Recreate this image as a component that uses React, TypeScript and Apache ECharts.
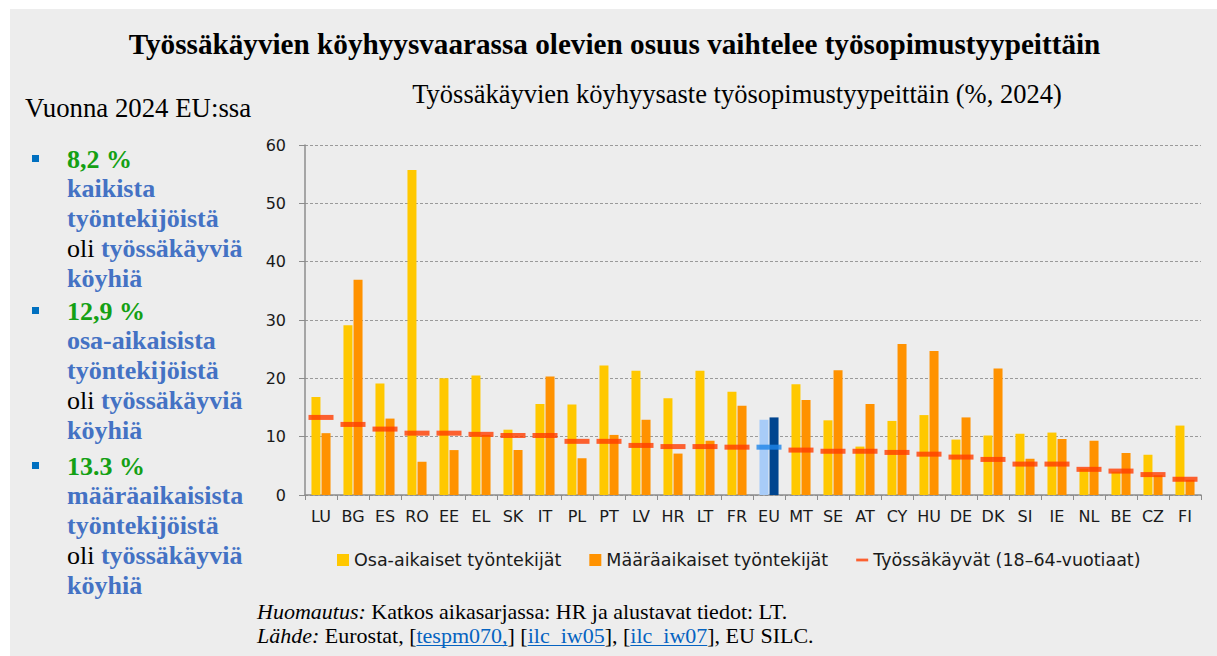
import React, { useEffect, useRef } from "react";
import * as echarts from "echarts";

// ---- Data ----
const categories = ["LU", "BG", "ES", "RO", "EE", "EL", "SK", "IT", "PL", "PT", "LV", "HR", "LT", "FR", "EU", "MT", "SE", "AT", "CY", "HU", "DE", "DK", "SI", "IE", "NL", "BE", "CZ", "FI"];
const partTime = [16.8, 29.1, 19.1, 55.7, 20.0, 20.5, 11.2, 15.6, 15.5, 22.2, 21.3, 16.6, 21.3, 17.7, 12.9, 19.0, 12.8, 8.3, 12.7, 13.7, 9.5, 10.2, 10.5, 10.7, 4.5, 4.0, 6.9, 11.9];
const temporary = [10.6, 36.9, 13.1, 5.7, 7.7, 10.3, 7.7, 20.3, 6.3, 10.3, 12.9, 7.1, 9.3, 15.3, 13.3, 16.3, 21.4, 15.6, 25.9, 24.7, 13.3, 21.7, 6.2, 9.6, 9.3, 7.2, 3.4, 2.6];
const employed = [13.3, 12.1, 11.3, 10.6, 10.6, 10.4, 10.2, 10.2, 9.2, 9.2, 8.5, 8.3, 8.3, 8.2, 8.2, 7.7, 7.5, 7.5, 7.3, 7.0, 6.5, 6.1, 5.3, 5.3, 4.4, 4.1, 3.5, 2.7];
const yTicks = { min: 0, max: 60, interval: 10 };

const seriesNames = ["Osa-aikaiset työntekijät", "Määräaikaiset työntekijät", "Työssäkäyvät (18–64-vuotiaat)"];
const highlightCategory = "EU";

const title = "Työssäkäyvien köyhyysvaarassa olevien osuus vaihtelee työsopimustyypeittäin";
const subtitle = "Työssäkäyvien köyhyysaste työsopimustyypeittäin (%, 2024)";
const sideHeading = "Vuonna 2024 EU:ssa";
const bulletPcts = ["8,2 %", "12,9 %", "13.3 %"];
const bulletGroups = ["kaikista", "osa-aikaisista", "määräaikaisista"];

// ---- Styles ----
const SERIF = '"Liberation Serif", "Times New Roman", serif';
const SANS = '"DejaVu Sans", "Liberation Sans", sans-serif';
const C_YELLOW = "#FFC800";
const C_ORANGE = "#FF9200";
const C_RED = "#FF3C00";
const C_EU_LIGHT = "#A8CCF8";
const C_EU_DARK = "#00458F";
const C_EU_MARK = "#1E84E8";
const C_GREEN = "#14A014";
const C_BLUE = "#4472C4";
const C_LINK = "#0563C1";

function measure(text: string, font: string): number {
  const c = document.createElement("canvas").getContext("2d");
  if (!c) return text.length * 9;
  c.font = font;
  return c.measureText(text).width;
}

export default function App() {
  const ref = useRef<HTMLDivElement>(null);

  useEffect(() => {
    if (!ref.current) return;
    const chart = echarts.init(ref.current, null, { renderer: "svg" });

    const graphic: any[] = [];
    const mid = (baseline: number, fs: number) => baseline - 0.34 * fs;

    graphic.push({
      type: "text", x: 614.5 - 10, y: mid(44.5, 29.2), z: 10,
      style: { text: title, font: `bold 29.2px ${SERIF}`, fill: "#000", align: "center", verticalAlign: "middle" },
    });
    graphic.push({
      type: "text", x: 727, y: mid(94.5, 26.5), z: 10,
      style: { text: subtitle, font: `26.5px ${SERIF}`, fill: "#000", align: "center", verticalAlign: "middle" },
    });
    graphic.push({
      type: "text", x: 15, y: mid(108, 26.8), z: 10,
      style: { text: sideHeading, font: `26.8px ${SERIF}`, fill: "#000", align: "left", verticalAlign: "middle" },
    });

    const rich = {
      g: { fontFamily: SERIF, fontSize: 26, fontWeight: "bold", fill: C_GREEN, color: C_GREEN },
      b: { fontFamily: SERIF, fontSize: 26, fontWeight: "bold", fill: C_BLUE, color: C_BLUE },
      k: { fontFamily: SERIF, fontSize: 26, fill: "#000", color: "#000" },
    };
    const blockStarts = [159, 311, 466];
    const step = 29.8;
    blockStarts.forEach((b0, bi) => {
      const lines = [
        `{g|${bulletPcts[bi]}}`,
        `{b|${bulletGroups[bi]}}`,
        `{b|työntekijöistä}`,
        `{k|oli }{b|työssäkäyviä}`,
        `{b|köyhiä}`,
      ];
      graphic.push({
        type: "rect", shape: { x: 22, y: b0 - 13, width: 7, height: 7 }, z: 10,
        style: { fill: "#0070C0" },
      });
      lines.forEach((ln, li) => {
        graphic.push({
          type: "text", x: 57, y: mid(b0 + li * step, 26), z: 10,
          style: { text: ln, rich, align: "left", verticalAlign: "middle" },
        });
      });
    });

    // footnote
    const fnX = 247;
    const fs = 22;
    const fItalic = `italic ${fs}px ${SERIF}`;
    const fNormal = `${fs}px ${SERIF}`;
    const line1 = [
      { t: "Huomautus:", s: "i" },
      { t: " Katkos aikasarjassa: HR ja alustavat tiedot: LT.", s: "n" },
    ];
    const line2 = [
      { t: "Lähde:", s: "i" },
      { t: " Eurostat, [", s: "n" },
      { t: "tespm070,", s: "l" },
      { t: "] [", s: "n" },
      { t: "ilc_iw05", s: "l" },
      { t: "], [", s: "n" },
      { t: "ilc_iw07", s: "l" },
      { t: "], EU SILC.", s: "n" },
    ];
    const fnRich = {
      i: { fontFamily: SERIF, fontSize: fs, fontStyle: "italic", fill: "#000", color: "#000" },
      n: { fontFamily: SERIF, fontSize: fs, fill: "#000", color: "#000" },
      l: { fontFamily: SERIF, fontSize: fs, fill: C_LINK, color: C_LINK },
    };
    [[line1, 610], [line2, 634]].forEach(([segs, base]: any) => {
      graphic.push({
        type: "text", x: fnX, y: mid(base, fs), z: 10,
        style: {
          text: segs.map((s: any) => `{${s.s}|${s.t}}`).join(""),
          rich: fnRich, align: "left", verticalAlign: "middle",
        },
      });
      let x = fnX;
      segs.forEach((s: any) => {
        const w = measure(s.t, s.s === "i" ? fItalic : fNormal);
        if (s.s === "l") {
          graphic.push({
            type: "line", z: 10,
            shape: { x1: x, y1: base + 2.5, x2: x + w, y2: base + 2.5 },
            style: { stroke: C_LINK, lineWidth: 1 },
          });
        }
        x += w;
      });
    });

    const isEU = (i: number) => categories[i] === highlightCategory;

    const option: any = {
      animation: false,
      backgroundColor: "#EDEDED",
      textStyle: { fontFamily: SANS },
      grid: { left: 295, right: 16, top: 136, bottom: 161, containLabel: false },
      legend: {
        left: 322,
        top: 537,
        itemWidth: 12,
        itemHeight: 12,
        itemGap: 28,
        textStyle: { fontFamily: SANS, fontSize: 17.5, color: "#1a1a1a" },
        data: [
          { name: seriesNames[0], icon: "rect" },
          { name: seriesNames[1], icon: "rect" },
          { name: seriesNames[2], icon: "path://M0,0h13v3h-13z" },
        ],
      },
      xAxis: {
        type: "category",
        data: categories,
        axisLine: { lineStyle: { color: "#8c8c8c", width: 1.5 } },
        axisTick: { show: true, length: 5, lineStyle: { color: "#8c8c8c" } },
        axisLabel: { interval: 0, fontSize: 16, color: "#1a1a1a", margin: 13, fontFamily: SANS },
      },
      yAxis: {
        type: "value",
        min: yTicks.min,
        max: yTicks.max,
        interval: yTicks.interval,
        axisLine: { show: true, lineStyle: { color: "#8c8c8c", width: 1.5 } },
        axisTick: { show: true, length: 6, lineStyle: { color: "#8c8c8c" } },
        axisLabel: { fontSize: 16, color: "#1a1a1a", margin: 19, fontFamily: SANS },
        splitLine: { show: true, lineStyle: { type: [3, 2], color: "#9a9a9a", width: 1 } },
      },
      series: [
        {
          name: seriesNames[0],
          type: "bar",
          barWidth: 9,
          barGap: "12%",
          itemStyle: { color: C_YELLOW },
          data: partTime.map((v, i) => (isEU(i) ? { value: v, itemStyle: { color: C_EU_LIGHT } } : v)),
        },
        {
          name: seriesNames[1],
          type: "bar",
          barWidth: 9,
          barGap: "12%",
          itemStyle: { color: C_ORANGE },
          data: temporary.map((v, i) => (isEU(i) ? { value: v, itemStyle: { color: C_EU_DARK } } : v)),
        },
        {
          name: seriesNames[2],
          type: "scatter",
          symbol: "rect",
          symbolSize: [25, 5],
          z: 5,
          itemStyle: { color: C_RED },
          data: employed.map((v, i) => (isEU(i) ? { value: v, itemStyle: { color: C_EU_MARK } } : v)),
        },
      ],
      graphic,
    };

    chart.setOption(option);
    return () => chart.dispose();
  }, []);

  return (
    <div
      ref={ref}
      style={{ position: "fixed", left: 10, top: 9, width: 1207, height: 647 }}
    />
  );
}
